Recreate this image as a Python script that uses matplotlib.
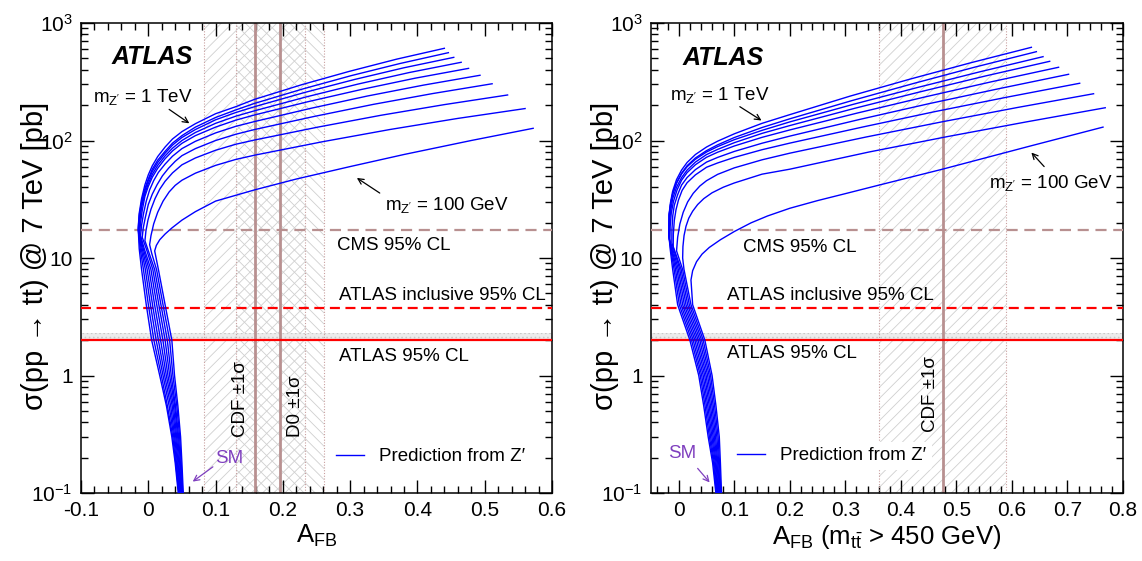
import matplotlib
matplotlib.use("Agg")
import matplotlib.pyplot as plt
from matplotlib.ticker import MultipleLocator, FixedLocator, FuncFormatter, NullFormatter

plt.rcParams['font.family'] = ['Liberation Sans', 'DejaVu Sans']
plt.rcParams['mathtext.fontset'] = 'custom'
plt.rcParams['mathtext.rm'] = 'Liberation Sans'
plt.rcParams['mathtext.it'] = 'Liberation Sans:italic'
plt.rcParams['hatch.linewidth'] = 0.6

# Z' prediction curves, m_Z' = 1 TeV (first) ... 100 GeV (last)
# left panel: inclusive A_FB
left_afb = [
    [0.0445, 0.040, 0.035, 0.027, 0.017, 0.005, -0.003, -0.010, -0.0135, -0.015, -0.0135, -0.010, -0.005, 0.0, 0.006, 0.014, 0.025, 0.036, 0.05, 0.07, 0.1, 0.13, 0.158, 0.2285, 0.299, 0.3695, 0.44],
    [0.0453, 0.0408, 0.0364, 0.0285, 0.0194, 0.0083, 0.0001, -0.0072, -0.012, -0.015, -0.0135, -0.010, -0.005, 0.0, 0.006, 0.014, 0.025, 0.036, 0.05, 0.07, 0.1, 0.13, 0.158, 0.23, 0.302, 0.374, 0.446],
    [0.0462, 0.0419, 0.0379, 0.031, 0.0219, 0.0117, 0.0032, -0.0044, -0.0105, -0.0145, -0.013, -0.010, -0.005, 0.0, 0.006, 0.014, 0.025, 0.036, 0.05, 0.07, 0.1, 0.13, 0.158, 0.232, 0.306, 0.38, 0.454],
    [0.047, 0.0431, 0.0393, 0.0333, 0.0243, 0.015, 0.0063, -0.0017, -0.009, -0.014, -0.0125, -0.010, -0.005, 0.0, 0.006, 0.014, 0.025, 0.036, 0.05, 0.07, 0.1, 0.13, 0.158, 0.2348, 0.3115, 0.388, 0.465],
    [0.0478, 0.0442, 0.0408, 0.0355, 0.0268, 0.0183, 0.0094, 0.0011, -0.0075, -0.013, -0.0115, -0.009, -0.005, 0.0, 0.006, 0.014, 0.025, 0.036, 0.05, 0.07, 0.1, 0.13, 0.158, 0.2375, 0.317, 0.3965, 0.476],
    [0.0487, 0.0454, 0.0422, 0.0374, 0.0292, 0.0217, 0.0126, 0.0039, -0.006, -0.0115, -0.010, -0.007, -0.003, 0.002, 0.008, 0.015, 0.025, 0.036, 0.05, 0.07, 0.1, 0.13, 0.158, 0.2418, 0.3255, 0.409, 0.493],
    [0.0495, 0.0466, 0.0437, 0.0392, 0.0317, 0.025, 0.0157, 0.0067, -0.003, -0.009, -0.0075, -0.0045, 0.0, 0.006, 0.013, 0.021, 0.03, 0.04, 0.05, 0.07, 0.1, 0.13, 0.158, 0.246, 0.3345, 0.4228, 0.511],
    [0.0503, 0.0477, 0.0451, 0.0405, 0.0341, 0.0283, 0.0188, 0.0094, -0.001, -0.005, -0.0035, -0.0005, 0.004, 0.01, 0.017, 0.025, 0.036, 0.05, 0.07, 0.1, 0.13, 0.158, 0.252, 0.346, 0.44, 0.534],
    [0.0512, 0.0489, 0.0466, 0.0424, 0.0366, 0.0317, 0.0219, 0.0122, 0.005, 0.002, 0.004, 0.008, 0.014, 0.022, 0.031, 0.04, 0.05, 0.07, 0.1, 0.13, 0.158, 0.2585, 0.359, 0.4595, 0.56],
    [0.052, 0.050, 0.048, 0.044, 0.039, 0.035, 0.025, 0.015, 0.0095, 0.012, 0.017, 0.025, 0.035, 0.05, 0.07, 0.1, 0.158, 0.22, 0.3, 0.38, 0.48, 0.572],
]
left_xsec = [
    [0.1, 0.18, 0.3, 0.55, 1, 2, 4, 8, 12, 18, 24, 32, 42, 51, 61, 73, 88, 103, 119, 139, 169, 194, 224, 299, 388, 493, 609],
    [0.1, 0.18, 0.3, 0.55, 1, 2, 4, 8, 12, 17.5, 23, 30, 39, 47, 57, 68, 81, 95, 110, 130, 157, 182, 207, 275, 357, 452, 559],
    [0.1, 0.18, 0.3, 0.55, 1, 2, 4, 8, 12, 17, 22, 28.6, 37.5, 45.6, 54.6, 65, 78, 91.4, 106, 124, 150, 173, 194, 256, 330, 416, 510],
    [0.1, 0.18, 0.3, 0.55, 1, 2, 4, 8, 12, 16.5, 21, 27, 35.4, 43, 51.5, 61.5, 74, 86, 100, 117, 140, 161, 179, 235, 302, 379, 463],
    [0.1, 0.18, 0.3, 0.55, 1, 2, 4, 8, 12, 16, 20, 25.5, 33.5, 40.7, 48.7, 58, 70, 81.5, 94.6, 110, 130, 149, 165, 214, 272, 339, 411],
    [0.1, 0.18, 0.3, 0.55, 1, 2, 4, 8, 12, 15.5, 19, 24, 30.5, 38, 45.5, 53.5, 63, 73.5, 85.3, 98.4, 116, 132, 145, 188, 239, 296, 359],
    [0.1, 0.18, 0.3, 0.55, 1, 2, 4, 8, 12, 15, 18, 22, 28.5, 35, 42, 50, 58, 66.5, 74.3, 85.3, 100, 113, 124, 160, 203, 251, 304],
    [0.1, 0.18, 0.3, 0.55, 1, 2, 4, 8, 12, 14, 17, 21, 26, 32, 38.5, 45, 53, 62.1, 71, 82.6, 92.9, 101, 130, 164, 202, 244],
    [0.1, 0.18, 0.3, 0.55, 1, 2, 4, 8, 11, 13, 15.5, 19.5, 24.5, 30.5, 36.5, 41.5, 45.9, 52.7, 61.4, 69, 75, 97.5, 124, 154, 187],
    [0.1, 0.18, 0.3, 0.55, 1, 2, 4, 8, 11.5, 12.8, 14.3, 16, 18, 21, 24.8, 30.5, 38, 47, 60, 76, 100, 127],
]

# right panel: A_FB for m_tt > 450 GeV
right_afb = [
    [0.0668, 0.061, 0.053, 0.045, 0.036, 0.020, -0.002, -0.011, -0.0155, -0.018, -0.0175, -0.015, -0.011, -0.004, 0.005, 0.015, 0.03, 0.05, 0.07, 0.1, 0.15, 0.2, 0.309, 0.4175, 0.526, 0.635],
    [0.0679, 0.0626, 0.0552, 0.0474, 0.0387, 0.023, 0.001, -0.0084, -0.0145, -0.018, -0.0175, -0.015, -0.011, -0.004, 0.005, 0.015, 0.03, 0.05, 0.07, 0.1, 0.15, 0.2, 0.311, 0.422, 0.533, 0.644],
    [0.0691, 0.0641, 0.0574, 0.0499, 0.0413, 0.026, 0.004, -0.0059, -0.0135, -0.0175, -0.017, -0.0145, -0.011, -0.004, 0.005, 0.015, 0.03, 0.05, 0.07, 0.1, 0.15, 0.2, 0.314, 0.428, 0.542, 0.656],
    [0.0702, 0.0657, 0.0597, 0.0523, 0.044, 0.029, 0.007, -0.0033, -0.0125, -0.017, -0.0168, -0.0145, -0.011, -0.004, 0.005, 0.015, 0.03, 0.05, 0.07, 0.1, 0.15, 0.2, 0.317, 0.434, 0.551, 0.668],
    [0.0713, 0.0672, 0.0619, 0.0548, 0.0467, 0.032, 0.010, -0.0008, -0.011, -0.016, -0.0155, -0.0135, -0.0095, -0.003, 0.005, 0.015, 0.03, 0.05, 0.07, 0.1, 0.15, 0.2, 0.321, 0.442, 0.563, 0.684],
    [0.0725, 0.0688, 0.0641, 0.0572, 0.0493, 0.035, 0.013, 0.0018, -0.0125, -0.0123, -0.0108, -0.008, -0.002, 0.005, 0.015, 0.03, 0.05, 0.07, 0.1, 0.15, 0.2, 0.3255, 0.451, 0.5765, 0.702],
    [0.0736, 0.0703, 0.0663, 0.0597, 0.052, 0.038, 0.016, 0.0043, -0.010, -0.0098, -0.008, -0.005, -0.0005, 0.006, 0.015, 0.03, 0.05, 0.07, 0.1, 0.15, 0.2, 0.3305, 0.461, 0.5915, 0.722],
    [0.0747, 0.0719, 0.0686, 0.0621, 0.0547, 0.041, 0.019, 0.0069, -0.004, -0.002, 0.002, 0.008, 0.016, 0.026, 0.038, 0.05, 0.07, 0.1, 0.15, 0.2, 0.337, 0.4735, 0.61, 0.747],
    [0.0759, 0.0734, 0.0708, 0.0646, 0.0573, 0.044, 0.022, 0.0094, 0.007, 0.0075, 0.0095, 0.013, 0.018, 0.025, 0.034, 0.045, 0.06, 0.08, 0.1, 0.15, 0.2, 0.342, 0.484, 0.626, 0.768],
    [0.077, 0.075, 0.073, 0.067, 0.060, 0.047, 0.025, 0.022, 0.025, 0.032, 0.042, 0.055, 0.075, 0.1, 0.13, 0.16, 0.2, 0.25, 0.3, 0.363, 0.475, 0.634, 0.764],
]
right_xsec = [
    [0.1, 0.18, 0.3, 0.55, 1, 2, 4, 8, 12, 16, 23.4, 29.5, 37, 46.5, 56, 65, 76, 88, 98.7, 114, 140, 166, 239, 334, 459, 621],
    [0.1, 0.18, 0.3, 0.55, 1, 2, 4, 8, 12, 15.5, 22.9, 28.2, 35, 43.7, 52.6, 61, 71, 82, 91.8, 106, 129, 153, 218, 305, 421, 570],
    [0.1, 0.18, 0.3, 0.55, 1, 2, 4, 8, 12, 15, 23.7, 29.2, 35, 43.4, 51.9, 59.8, 69.3, 79.8, 88.8, 101.6, 122, 144, 203, 281, 384, 517],
    [0.1, 0.18, 0.3, 0.55, 1, 2, 4, 8, 12, 14.5, 20.2, 25.4, 32, 40, 48.3, 56, 65.5, 75.9, 84, 95.8, 115, 134, 188, 259, 353, 472],
    [0.1, 0.18, 0.3, 0.55, 1, 2, 4, 8, 12, 14, 18.5, 24.1, 30.4, 38, 45.9, 53.3, 62.2, 72, 79.5, 89.8, 106.4, 123, 171, 234, 316, 420],
    [0.1, 0.18, 0.3, 0.55, 1, 2, 4, 8, 13.5, 17.5, 22.9, 28.2, 34.6, 41.7, 48.4, 56.5, 65.5, 71.8, 80.7, 94.8, 109, 151, 206, 276, 366],
    [0.1, 0.18, 0.3, 0.55, 1, 2, 4, 8, 12.5, 16, 20.9, 25.7, 31.2, 37.6, 43.7, 51, 59.2, 64.4, 71.8, 83.5, 95, 130, 176, 234, 307],
    [0.1, 0.18, 0.3, 0.55, 1, 2, 4, 8, 11.5, 15, 19.5, 24.5, 30, 35.5, 41, 45.5, 51.5, 58.5, 68.5, 78, 107, 144, 191, 250],
    [0.1, 0.18, 0.3, 0.55, 1, 2, 4, 8, 10, 12.5, 15.5, 18.6, 21.8, 25, 28.5, 32, 35.9, 40, 43.5, 51.7, 57, 79.7, 108, 144, 190],
    [0.1, 0.18, 0.3, 0.55, 1, 2, 4, 6.5, 7.8, 9.3, 10.8, 12.3, 14.3, 16.8, 19.9, 22.8, 26.5, 30.8, 35.3, 42, 57, 90, 130],
]

# Tevatron measurements (central, error)
cdf_incl = (0.158, 0.075)
d0_incl = (0.196, 0.065)
cdf_high = (0.475, 0.114)

# LHC cross-section limits [pb]
cms_limit = 17.3
atlas_incl_limit = 3.75
atlas_limit = 2.0
atlas_band_top = 2.3

ytick_vals = [0.1, 1, 10, 100, 1000]
ytick_text = [r'$\mathregular{10^{-1}}$', '1', '10', r'$\mathregular{10^{2}}$', r'$\mathregular{10^{3}}$']

blue = '#0000ff'
rosy = '#b89090'
hatch_col = '#cfcfcf'
purple = '#7f3fbf'
fs = 13.5

fig = plt.figure(figsize=(11.42, 5.61), dpi=100)
axL = fig.add_axes([81 / 1142, 68 / 561, 471 / 1142, 470 / 561])
axR = fig.add_axes([651 / 1142, 68 / 561, 472 / 1142, 470 / 561])


def style(ax, xlim):
    ax.set_yscale('log')
    ax.set_xlim(*xlim)
    ax.set_ylim(0.1, 1000)
    ax.xaxis.set_major_locator(MultipleLocator(0.1))
    ax.xaxis.set_minor_locator(MultipleLocator(0.02))
    ax.xaxis.set_major_formatter(FuncFormatter(lambda v, p: f'{v:g}'))
    ax.yaxis.set_major_locator(FixedLocator(ytick_vals))
    ax.yaxis.set_major_formatter(FuncFormatter(lambda v, p: ytick_text[ytick_vals.index(v)] if v in ytick_vals else ''))
    minors = [m * 10.0 ** e for e in range(-1, 3) for m in range(2, 10)]
    ax.yaxis.set_minor_locator(FixedLocator(minors))
    ax.yaxis.set_minor_formatter(NullFormatter())
    ax.tick_params(which='both', direction='in', top=True, right=True, width=1.0, labelsize=15)
    ax.tick_params(which='major', length=9.5, pad=6)
    ax.tick_params(which='minor', length=5)
    for s in ax.spines.values():
        s.set_linewidth(1.1)


def limits(ax):
    ax.axhline(cms_limit, color=rosy, ls=(0, (5, 3)), lw=1.6, zorder=3)
    ax.axhline(atlas_incl_limit, color='red', ls=(0, (4.5, 2.5)), lw=1.6, zorder=3)
    ax.axhspan(atlas_limit, atlas_band_top, facecolor='#ececec', edgecolor='#c8c8c8', hatch='....', lw=0, zorder=1)
    ax.axhline(atlas_limit, color='red', lw=1.6, zorder=3)


def band(ax, meas, hatch):
    c, e = meas
    ax.axvspan(c - e, c + e, facecolor='none', edgecolor=hatch_col, hatch=hatch, lw=0, zorder=0.5)
    ax.axvline(c - e, color='#c9a0a0', ls=(0, (1, 1.5)), lw=0.8, zorder=2)
    ax.axvline(c + e, color='#c9a0a0', ls=(0, (1, 1.5)), lw=0.8, zorder=2)
    ax.axvline(c, color=rosy, lw=2, zorder=2)


arrow = dict(arrowstyle='->', color='black', lw=0.9, shrinkA=0, shrinkB=0)
sm_arrow = dict(arrowstyle='->', color=purple, lw=0.9, shrinkA=0, shrinkB=0)
leg_kw = dict(fontsize=fs, frameon=True, facecolor='white', edgecolor='none', framealpha=1,
              handlelength=1.5, handletextpad=0.8, borderpad=0.3, borderaxespad=0, loc='center left')

# ---- left panel
style(axL, (-0.1, 0.6))
band(axL, cdf_incl, '///')
band(axL, d0_incl, '\\\\\\')
limits(axL)
for i, (xa, ya) in enumerate(zip(left_afb, left_xsec)):
    axL.plot(xa, ya, color=blue, lw=1.0, zorder=4, label='Prediction from Z\u2032' if i == 0 else None)

axL.text(-0.054, 514, 'ATLAS', fontsize=18, fontweight='bold', style='italic', va='center')
axL.text(-0.082, 234, r"m$_{\mathregular{Z'}}$ = 1 TeV", fontsize=fs, va='center')
axL.annotate('', xy=(0.061, 140), xytext=(0.031, 184), arrowprops=arrow)
axL.text(0.352, 28.3, r"m$_{\mathregular{Z'}}$ = 100 GeV", fontsize=fs, va='center')
axL.annotate('', xy=(0.310, 48), xytext=(0.344, 35.7), arrowprops=arrow)
axL.text(0.281, 12.9, 'CMS 95% CL', fontsize=fs, va='center')
axL.text(0.283, 4.75, 'ATLAS inclusive 95% CL', fontsize=fs, va='center')
axL.text(0.284, 1.445, 'ATLAS 95% CL', fontsize=fs, va='center')
axL.text(0.1377, 0.30, 'CDF \u00b11\u03c3', fontsize=fs, rotation=90, ha='center', va='bottom')
axL.text(0.2195, 0.30, 'D0 \u00b11\u03c3', fontsize=fs, rotation=90, ha='center', va='bottom')
axL.text(0.099, 0.195, 'SM', fontsize=fs, color=purple, va='center')
axL.annotate('', xy=(0.066, 0.125), xytext=(0.096, 0.167), arrowprops=sm_arrow)
axL.legend(bbox_to_anchor=(0.53, 0.077), **leg_kw)
axL.set_xlabel(r'A$_{\mathregular{FB}}$', fontsize=18.5, labelpad=2)

# ---- right panel
style(axR, (-0.05, 0.8))
band(axR, cdf_high, '///')
limits(axR)
for i, (xa, ya) in enumerate(zip(right_afb, right_xsec)):
    axR.plot(xa, ya, color=blue, lw=1.0, zorder=4, label='Prediction from Z\u2032' if i == 0 else None)

axR.text(0.007, 504, 'ATLAS', fontsize=18, fontweight='bold', style='italic', va='center')
axR.text(-0.016, 244, r"m$_{\mathregular{Z'}}$ = 1 TeV", fontsize=fs, va='center')
axR.annotate('', xy=(0.149, 148), xytext=(0.110, 194), arrowprops=arrow)
axR.text(0.558, 43.5, r"m$_{\mathregular{Z'}}$ = 100 GeV", fontsize=fs, va='center')
axR.annotate('', xy=(0.635, 79), xytext=(0.658, 60), arrowprops=arrow)
axR.text(0.1155, 12.4, 'CMS 95% CL', fontsize=fs, va='center')
axR.text(0.0866, 4.84, 'ATLAS inclusive 95% CL', fontsize=fs, va='center')
axR.text(0.0866, 1.55, 'ATLAS 95% CL', fontsize=fs, va='center')
axR.text(0.453, 0.33, 'CDF \u00b11\u03c3', fontsize=fs, rotation=90, ha='center', va='bottom')
axR.text(-0.019, 0.215, 'SM', fontsize=fs, color=purple, va='center')
axR.annotate('', xy=(0.0556, 0.123), xytext=(0.034, 0.162), arrowprops=sm_arrow)
axR.legend(bbox_to_anchor=(0.17, 0.079), **leg_kw)
axR.set_xlabel(r'A$_{\mathregular{FB}}$ (m$_{\mathregular{t\bar{t}}}$ > 450 GeV)', fontsize=18.5, labelpad=2)

ylab = 'σ(pp → tt) @ 7 TeV [pb]'
fig.text(35 / 1142, 1 - 256 / 561, ylab, rotation=90, ha='center', va='center', fontsize=21)
fig.text(605 / 1142, 1 - 256 / 561, ylab, rotation=90, ha='center', va='center', fontsize=21)

fig.savefig('out.png', dpi=100)
